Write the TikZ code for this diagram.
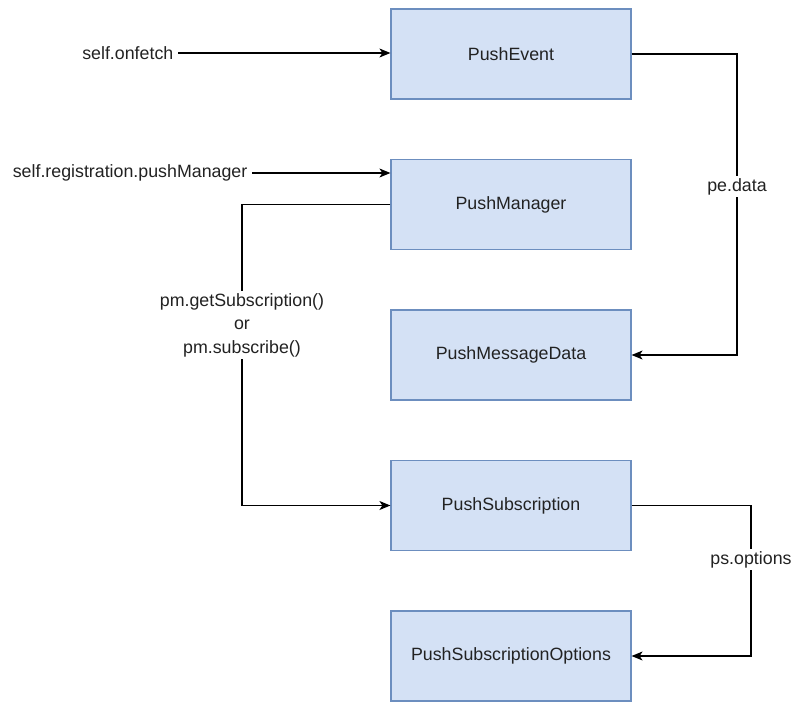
\documentclass[tikz,border=0pt]{standalone}
\usepackage{fontspec}
\setmainfont{Liberation Sans}
\usetikzlibrary{positioning,arrows.meta}
\definecolor{boxfill}{RGB}{212,225,245}
\definecolor{boxline}{RGB}{108,142,191}
\definecolor{txt}{RGB}{34,34,34}
\tikzset{
    block/.style={rectangle, draw=boxline, fill=boxfill, line width=1.2pt, minimum width=240pt, minimum height=90pt, text=txt, font=\fontsize{17.8}{23.5}\selectfont},
    line/.style={draw, line width=1.2pt, -{Stealth[length=11pt,width=9pt,inset=3pt]}},
    lbl/.style={text=txt, font=\fontsize{17.8}{23.5}\selectfont, fill=white, inner sep=2pt, align=center}
}

\begin{document}
\begin{tikzpicture}[x=1pt, y=1pt, node distance=59.3pt]
        \useasboundingbox (0,0) rectangle (805,-706);
        \node[block] (event) at (511,-54) {PushEvent};
        \node[block, below=of event] (mgr) {PushManager};
        \node[block, below=of mgr] (data) {PushMessageData};
        \node[block, below=of data] (sub) {PushSubscription};
        \node[block, below=of sub] (opts) {PushSubscriptionOptions};

        \node[lbl, fill=none, anchor=east, inner sep=4.5pt] (onfetch) at (178,-53) {self.onfetch};
        \node[lbl, fill=none, anchor=east, inner sep=4.5pt] (regmgr) at (252,-173) {self.registration.pushManager};

        % x positions of the vertical runs
        \coordinate (lft) at (242,0);
        \coordinate (rgt1) at (737,0);
        \coordinate (rgt2) at (751,0);

        \draw[line] (onfetch) -- (event.west |- onfetch);
        \draw[line] (regmgr) -- (mgr.west |- regmgr);
        \draw[line] (mgr.west) -- (mgr.west -| lft) |- node[lbl, pos=0.2] {pm.getSubscription()\\or\\pm.subscribe()} (sub.west);
        \draw[line] (event.east) -- (event.east -| rgt1) |- node[lbl, pos=0.22] {pe.data} (data.east);
        \draw[line] (sub.east) -- (sub.east -| rgt2) |- node[lbl, pos=0.18] {ps.options} (opts.east);
    \end{tikzpicture}
\end{document}
